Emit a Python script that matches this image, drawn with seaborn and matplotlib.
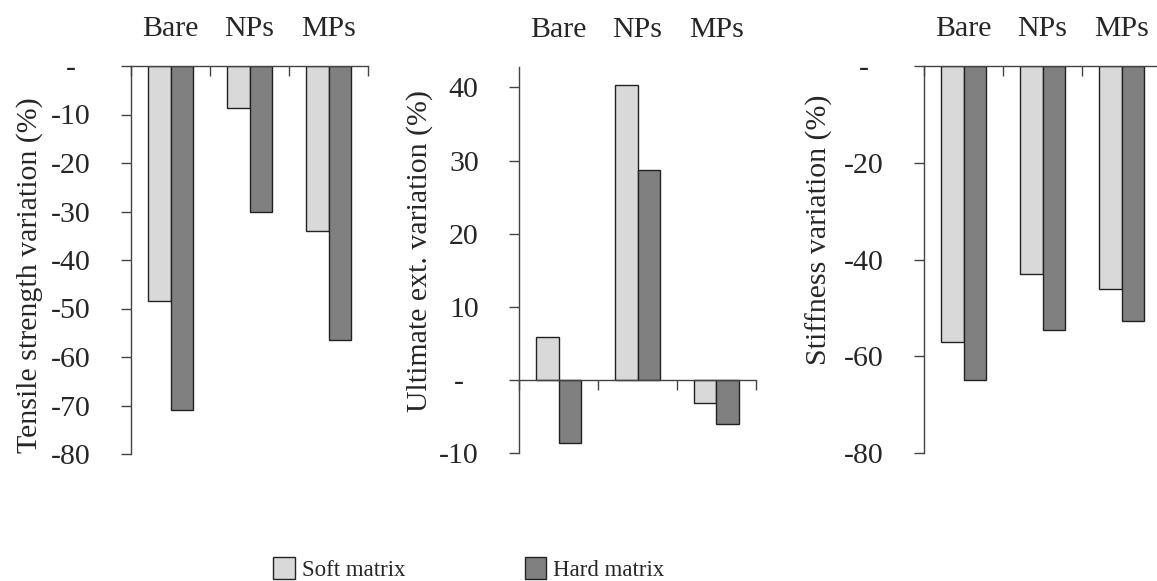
import matplotlib
matplotlib.use("Agg")
import matplotlib.pyplot as plt
import pandas as pd
import seaborn as sns
from matplotlib.patches import Patch

# Filler types and matrix types
fillers = ["Bare", "NPs", "MPs"]
matrices = ["Soft matrix", "Hard matrix"]

# Percentage variation of each property with respect to the unfilled material
tensile_soft = [-48.5, -8.6, -34.0]
tensile_hard = [-71.0, -30.0, -56.4]
ext_soft = [5.8, 40.4, -3.2]
ext_hard = [-8.6, 28.7, -6.1]
stiff_soft = [-57.1, -43.0, -46.1]
stiff_hard = [-65.0, -54.6, -52.7]

ylabels = ["Tensile strength variation (%)",
           "Ultimate ext. variation (%)",
           "Stiffness variation (%)"]
tensile_ticks = [0, -10, -20, -30, -40, -50, -60, -70, -80]
ext_ticks = [40, 30, 20, 10, 0, -10]
stiff_ticks = [0, -20, -40, -60, -80]

colors = ["#d9d9d9", "#808080"]

sns.set_theme(style="white")
plt.rcParams["font.family"] = ["Liberation Serif", "DejaVu Serif"]

fig = plt.figure(figsize=(11.57, 5.81), dpi=100)
W, H = 1157, 581
FS = 21.5


def px_axes(x0, y_top, x1, y_bot):
    return fig.add_axes([x0 / W, 1 - y_bot / H, (x1 - x0) / W, (y_bot - y_top) / H])


panels = [
    dict(ax=px_axes(131, 66, 368, 454), soft=tensile_soft, hard=tensile_hard,
         ylim=(-80, 0), ticks=tensile_ticks, label=ylabels[0], lab=(-0.371, 0.46)),
    dict(ax=px_axes(519, 67, 756, 453), soft=ext_soft, hard=ext_hard,
         ylim=(-10, 42.8), ticks=ext_ticks, label=ylabels[1], lab=(-0.363, 0.523)),
    dict(ax=px_axes(924, 66, 1161, 453), soft=stiff_soft, hard=stiff_hard,
         ylim=(-80, 0), ticks=stiff_ticks, label=ylabels[2], lab=(-0.384, 0.576)),
]

line_col = "#444444"

for p in panels:
    ax = p["ax"]
    df = pd.DataFrame({
        "filler": fillers * 2,
        "matrix": [matrices[0]] * 3 + [matrices[1]] * 3,
        "value": list(p["soft"]) + list(p["hard"]),
    })
    sns.barplot(data=df, x="filler", y="value", hue="matrix",
                order=fillers, hue_order=matrices, palette=colors,
                width=0.56, edgecolor="#222222", linewidth=1.0,
                legend=False, ax=ax)

    ax.set_xlim(-0.5, 2.5)
    ax.set_ylim(*p["ylim"])
    for s in ("top", "right"):
        ax.spines[s].set_visible(False)
    ax.spines["bottom"].set_position(("data", 0))
    ax.spines["bottom"].set_color(line_col)
    ax.spines["left"].set_color(line_col)
    ax.spines["bottom"].set_linewidth(1.0)
    ax.spines["left"].set_linewidth(1.0)

    # category names across the top, boundary ticks hanging from the zero line
    ax.set_xticks([0, 1, 2])
    ax.set_xticklabels(fillers)
    ax.set_xticks([-0.5, 0.5, 1.5, 2.5], minor=True)
    ax.tick_params(axis="x", which="major", bottom=False, top=False,
                   labelbottom=False, labeltop=True, labelsize=FS, pad=17,
                   length=0)
    ax.tick_params(axis="x", which="minor", bottom=True, top=False,
                   direction="out", length=7, width=1.0, color=line_col)

    ax.set_yticks(p["ticks"])
    ax.set_yticklabels(["-  " if t == 0 else str(t) for t in p["ticks"]])
    ax.tick_params(axis="y", left=True, direction="out", length=7, width=1.0,
                   color=line_col, labelsize=FS, pad=22)

    ax.set_xlabel("")
    ax.set_ylabel(p["label"], fontsize=FS)
    ax.yaxis.set_label_coords(*p["lab"])

handles = [Patch(facecolor=colors[0], edgecolor="#222222", linewidth=1.0),
           Patch(facecolor=colors[1], edgecolor="#222222", linewidth=1.0)]
fig.legend(handles, matrices, loc="center", ncol=2, frameon=False,
           fontsize=16.5, handlelength=0.95, handleheight=1.05,
           handletextpad=0.3, columnspacing=5.2,
           bbox_to_anchor=(469 / W, 1 - 569 / H))

fig.savefig("out.png", dpi=100)
